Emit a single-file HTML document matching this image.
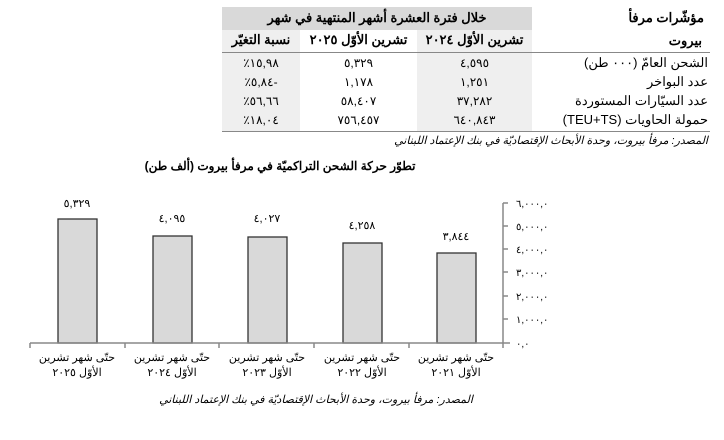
<!DOCTYPE html>
<html><head><meta charset="utf-8"><style>
body{margin:0;width:724px;height:440px;background:#fff;position:relative;overflow:hidden;font-family:"Liberation Sans","Noto Sans CJK SC",sans-serif;color:#000}
.a{position:absolute;white-space:nowrap;direction:rtl}
.c{text-align:center}
.r{text-align:right}
</style></head><body>
<div style="position:absolute;left:222px;top:7px;width:310px;height:23px;background:#d9d9d9"></div>
<div style="position:absolute;left:222px;top:30px;width:78px;height:101px;background:#efefef"></div>
<div style="position:absolute;left:417px;top:30px;width:115px;height:101px;background:#efefef"></div>
<div style="position:absolute;left:222px;top:52px;width:488px;height:1px;background:#888"></div>
<div style="position:absolute;left:222px;top:131px;width:488px;height:1px;background:#888"></div>
<div class="a c" style="left:222px;width:310px;top:10px;font-size:13px;font-weight:bold">خلال فترة العشرة أشهر المنتهية في شهر</div>
<div class="a r" style="right:20px;top:10px;font-size:13px;font-weight:bold">مؤشّرات مرفأ</div>
<div class="a r" style="right:22px;top:33px;font-size:13px;font-weight:bold">بيروت</div>
<div class="a c" style="left:417px;width:115px;top:32px;font-size:13px;font-weight:bold">تشرين الأوّل ٢٠٢٤</div>
<div class="a c" style="left:300px;width:117px;top:32px;font-size:13px;font-weight:bold">تشرين الأوّل ٢٠٢٥</div>
<div class="a c" style="left:222px;width:78px;top:32px;font-size:13px;font-weight:bold">نسبة التغيّر</div>

<div class="a r" style="right:16px;top:55px;font-size:13px">الشحن العامّ (٠٠٠ طن)</div>
<div class="a r" style="right:16px;top:74px;font-size:13px">عدد البواخر</div>
<div class="a r" style="right:16px;top:93px;font-size:13px">عدد السيّارات المستوردة</div>
<div class="a r" style="right:16px;top:112px;font-size:13px">حمولة الحاويات (TEU+TS)</div>

<div class="a c" style="left:417px;width:115px;top:56px;font-size:12px">٤,٥٩٥</div>
<div class="a c" style="left:417px;width:115px;top:75px;font-size:12px">١,٢٥١</div>
<div class="a c" style="left:417px;width:115px;top:94px;font-size:12px">٣٧,٢٨٢</div>
<div class="a c" style="left:417px;width:115px;top:113px;font-size:12px">٦٤٠,٨٤٣</div>
<div class="a c" style="left:300px;width:117px;top:56px;font-size:12px">٥,٣٢٩</div>
<div class="a c" style="left:300px;width:117px;top:75px;font-size:12px">١,١٧٨</div>
<div class="a c" style="left:300px;width:117px;top:94px;font-size:12px">٥٨,٤٠٧</div>
<div class="a c" style="left:300px;width:117px;top:113px;font-size:12px">٧٥٦,٤٥٧</div>
<div class="a c" style="left:222px;width:78px;top:56px;font-size:12px">١٥,٩٨٪</div>
<div class="a c" style="left:222px;width:78px;top:75px;font-size:12px">-٥,٨٤٪</div>
<div class="a c" style="left:222px;width:78px;top:94px;font-size:12px">٥٦,٦٦٪</div>
<div class="a c" style="left:222px;width:78px;top:113px;font-size:12px">١٨,٠٤٪</div>
<div class="a r" style="right:16px;top:134px;font-size:11px;font-style:italic">المصدر: مرفأ بيروت، وحدة الأبحاث الإقتصاديّة في بنك الإعتماد اللبناني</div>

<div class="a c" style="left:130px;width:300px;top:159px;font-size:12px;font-weight:bold">تطوّر حركة الشحن التراكميّة في مرفأ بيروت (ألف طن)</div>

<svg style="position:absolute;left:0;top:0" width="724" height="440">
<g fill="#d9d9d9" stroke="#333" stroke-width="1.3">
<rect x="58" y="219" width="39" height="124"/>
<rect x="153" y="236" width="39" height="107"/>
<rect x="248" y="237" width="39" height="106"/>
<rect x="343" y="243" width="39" height="100"/>
<rect x="437" y="253" width="39" height="90"/>
</g>
<g stroke="#888" stroke-width="1.5">
<line x1="30" y1="343" x2="510" y2="343"/>
<line x1="503" y1="203" x2="503" y2="343"/>
<line x1="30" y1="343" x2="30" y2="348"/><line x1="125" y1="343" x2="125" y2="348"/>
<line x1="219" y1="343" x2="219" y2="348"/><line x1="314" y1="343" x2="314" y2="348"/>
<line x1="409" y1="343" x2="409" y2="348"/><line x1="503" y1="343" x2="503" y2="348"/>
<line x1="503" y1="203" x2="508" y2="203"/><line x1="503" y1="226" x2="508" y2="226"/>
<line x1="503" y1="249" x2="508" y2="249"/><line x1="503" y1="272" x2="508" y2="272"/>
<line x1="503" y1="296" x2="508" y2="296"/><line x1="503" y1="319" x2="508" y2="319"/>
</g>
<g font-family="Liberation Sans, sans-serif" font-size="10" fill="#000">
<text x="516" y="207">٦,٠٠٠,٠</text><text x="516" y="230">٥,٠٠٠,٠</text>
<text x="516" y="253">٤,٠٠٠,٠</text><text x="516" y="276">٣,٠٠٠,٠</text>
<text x="516" y="300">٢,٠٠٠,٠</text><text x="516" y="323">١,٠٠٠,٠</text>
<text x="516" y="347">٠,٠</text>
</g>
<g font-family="Liberation Sans, sans-serif" font-size="11" text-anchor="middle">
<text x="77" y="207">٥,٣٢٩</text><text x="172" y="222">٤,٠٩٥</text>
<text x="267" y="222">٤,٠٢٧</text><text x="362" y="229">٤,٢٥٨</text>
<text x="456" y="240">٣,٨٤٤</text>
</g>
<g font-family="Liberation Sans, sans-serif" font-size="11" text-anchor="middle" direction="rtl">
<text x="77" y="361">حتّى شهر تشرين</text><text x="77" y="376">الأوّل ٢٠٢٥</text>
<text x="172" y="361">حتّى شهر تشرين</text><text x="172" y="376">الأوّل ٢٠٢٤</text>
<text x="267" y="361">حتّى شهر تشرين</text><text x="267" y="376">الأوّل ٢٠٢٣</text>
<text x="362" y="361">حتّى شهر تشرين</text><text x="362" y="376">الأوّل ٢٠٢٢</text>
<text x="456" y="361">حتّى شهر تشرين</text><text x="456" y="376">الأوّل ٢٠٢١</text>
<text x="316" y="403" font-style="italic">المصدر: مرفأ بيروت، وحدة الأبحاث الإقتصاديّة في بنك الإعتماد اللبناني</text>
</g>
</svg>
</body></html>
